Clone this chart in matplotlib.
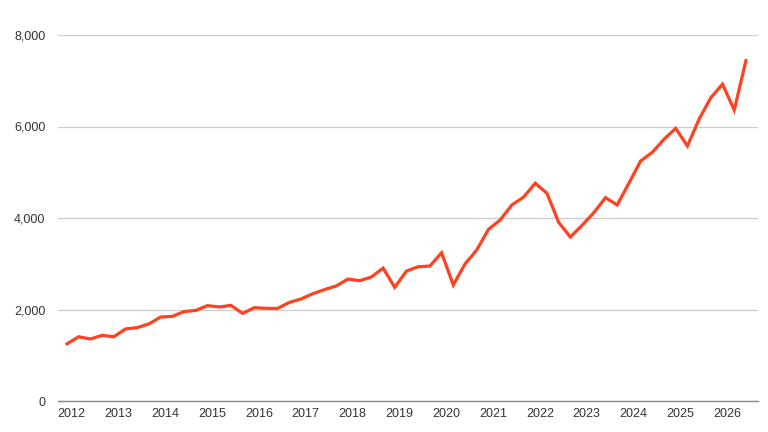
import numpy as np
import matplotlib
matplotlib.use("Agg")
import matplotlib.pyplot as plt

plt.rcParams['font.family'] = ['Liberation Sans', 'DejaVu Sans']

# quarterly values, 2012 Q1 .. 2026 Q3
values = [
    1250, 1405, 1355, 1435, 1405, 1575, 1605, 1685,
    1835, 1850, 1955, 1980, 2085, 2055, 2090, 1915,
    2040, 2025, 2025, 2155, 2230, 2345, 2435, 2515,
    2665, 2630, 2710, 2905, 2485, 2840, 2935, 2950,
    3240, 2535, 2995, 3300, 3750, 3955, 4285, 4455,
    4760, 4540, 3905, 3585, 3840, 4115, 4445, 4285,
    4760, 5245, 5435, 5720, 5960, 5575, 6160, 6630,
    6925, 6360, 7440,
]
years = list(range(2012, 2027))
y_ticks = [0, 2000, 4000, 6000, 8000]

x = np.arange(len(values))

fig = plt.figure(figsize=(7.68, 4.32), dpi=100)
ax = fig.add_axes([58 / 768, 1 - 401 / 432, 700 / 768, 366 / 432])

ax.plot(x, values, color='#ff4021', linewidth=2.3, solid_joinstyle='miter', zorder=3)

ax.set_ylim(0, 8000)
ax.set_xlim(-0.77, 59.03)
ax.set_yticks(y_ticks)
ax.set_yticklabels([f"{v:,}" for v in y_ticks])
ax.set_xticks([4 * (yr - 2012) + 0.4 for yr in years])
ax.set_xticklabels([str(yr) for yr in years])

ax.grid(axis='y', color='#cccccc', linewidth=0.9)
ax.set_axisbelow(True)
for side in ['top', 'right', 'left']:
    ax.spines[side].set_visible(False)
ax.spines['bottom'].set_color('#888888')
ax.spines['bottom'].set_linewidth(1.0)

ax.tick_params(axis='both', length=0, labelsize=9, colors='#333333')
ax.tick_params(axis='y', pad=9)
ax.tick_params(axis='x', pad=5)

fig.savefig('out.png', dpi=100)
